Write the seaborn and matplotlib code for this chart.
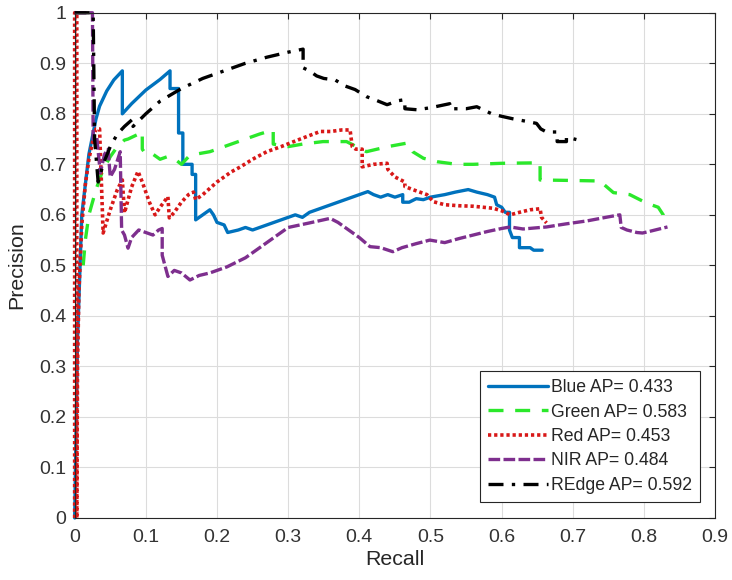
import matplotlib
matplotlib.use("Agg")
import matplotlib.pyplot as plt
import seaborn as sns
import pandas as pd

# Precision-recall curves per spectral band
blue_recall = [0, 0.004, 0.01, 0.02, 0.03, 0.035, 0.045, 0.055, 0.067, 0.067, 0.08, 0.1, 0.12, 0.134, 0.134,
               0.146, 0.146, 0.152, 0.152, 0.165, 0.165, 0.17, 0.17, 0.18, 0.19, 0.195, 0.2, 0.21, 0.215, 0.23,
               0.24, 0.25, 0.26, 0.27, 0.28, 0.29, 0.3, 0.31, 0.32, 0.33, 0.35, 0.37, 0.39, 0.412, 0.42, 0.43,
               0.44, 0.45, 0.461, 0.461, 0.47, 0.48, 0.49, 0.5, 0.52, 0.535, 0.553, 0.565, 0.58, 0.59, 0.593,
               0.6, 0.605, 0.611, 0.611, 0.615, 0.625, 0.625, 0.64, 0.645, 0.657]
blue_precision = [0, 0.35, 0.6, 0.72, 0.79, 0.815, 0.845, 0.867, 0.885, 0.80, 0.82, 0.847, 0.868, 0.885, 0.85,
                  0.85, 0.762, 0.762, 0.70, 0.70, 0.68, 0.68, 0.59, 0.60, 0.61, 0.60, 0.585, 0.58, 0.565, 0.57,
                  0.575, 0.57, 0.575, 0.58, 0.585, 0.59, 0.595, 0.60, 0.595, 0.605, 0.615, 0.625, 0.635, 0.646,
                  0.64, 0.635, 0.64, 0.635, 0.64, 0.625, 0.625, 0.632, 0.63, 0.635, 0.64, 0.645, 0.65, 0.645,
                  0.64, 0.635, 0.62, 0.615, 0.605, 0.605, 0.57, 0.555, 0.555, 0.535, 0.535, 0.53, 0.53]

green_recall = [0.012, 0.015, 0.02, 0.03, 0.04, 0.05, 0.06, 0.07, 0.075, 0.09, 0.095, 0.095, 0.1, 0.11, 0.12,
                0.13, 0.141, 0.15, 0.16, 0.17, 0.19, 0.2, 0.22, 0.24, 0.26, 0.279, 0.279, 0.3, 0.32, 0.349,
                0.382, 0.41, 0.44, 0.467, 0.475, 0.49, 0.51, 0.537, 0.56, 0.6, 0.654, 0.654, 0.7, 0.738, 0.757,
                0.78, 0.804, 0.81, 0.82, 0.827, 0.827]
green_precision = [0.50, 0.55, 0.60, 0.65, 0.69, 0.715, 0.735, 0.748, 0.75, 0.76, 0.765, 0.73, 0.72, 0.72, 0.71,
                   0.715, 0.71, 0.70, 0.715, 0.72, 0.725, 0.73, 0.74, 0.75, 0.76, 0.768, 0.74, 0.735, 0.74, 0.745,
                   0.745, 0.725, 0.735, 0.742, 0.725, 0.712, 0.705, 0.70, 0.70, 0.702, 0.703, 0.669, 0.668, 0.667,
                   0.644, 0.64, 0.623, 0.62, 0.615, 0.60, 0.59]

red_recall = [0, 0, 0.003, 0.003, 0.004, 0.006, 0.01, 0.015, 0.02, 0.026, 0.03, 0.035, 0.04, 0.05, 0.06, 0.067,
              0.07, 0.08, 0.089, 0.095, 0.1, 0.105, 0.113, 0.12, 0.131, 0.133, 0.14, 0.15, 0.16, 0.167, 0.17,
              0.18, 0.2, 0.22, 0.233, 0.25, 0.27, 0.29, 0.317, 0.33, 0.345, 0.36, 0.375, 0.387, 0.39, 0.395,
              0.404, 0.404, 0.42, 0.439, 0.44, 0.45, 0.464, 0.464, 0.475, 0.485, 0.495, 0.504, 0.52, 0.54,
              0.56, 0.588, 0.6, 0.612, 0.625, 0.64, 0.654, 0.656, 0.663]
red_precision = [0, 1, 1, 0, 0.3, 0.45, 0.58, 0.66, 0.71, 0.75, 0.77, 0.77, 0.564, 0.61, 0.65, 0.669, 0.604,
                 0.655, 0.686, 0.665, 0.645, 0.625, 0.60, 0.615, 0.636, 0.594, 0.605, 0.625, 0.64, 0.645, 0.63,
                 0.64, 0.665, 0.685, 0.695, 0.71, 0.725, 0.735, 0.75, 0.757, 0.765, 0.765, 0.768, 0.768, 0.735,
                 0.73, 0.73, 0.695, 0.70, 0.702, 0.69, 0.675, 0.665, 0.656, 0.65, 0.645, 0.64, 0.626, 0.62,
                 0.618, 0.617, 0.613, 0.608, 0.60, 0.605, 0.61, 0.612, 0.595, 0.584]

nir_recall = [0, 0.025, 0.026, 0.031, 0.036, 0.042, 0.047, 0.05, 0.056, 0.064, 0.066, 0.07, 0.075, 0.08, 0.09,
              0.1, 0.11, 0.118, 0.123, 0.123, 0.131, 0.14, 0.15, 0.162, 0.175, 0.19, 0.2, 0.214, 0.24, 0.26,
              0.28, 0.3, 0.33, 0.359, 0.37, 0.38, 0.39, 0.4, 0.415, 0.43, 0.447, 0.46, 0.48, 0.499, 0.52, 0.54,
              0.56, 0.58, 0.6, 0.612, 0.63, 0.663, 0.69, 0.72, 0.75, 0.766, 0.768, 0.776, 0.79, 0.798, 0.81,
              0.833]
nir_precision = [1, 1, 0.75, 0.755, 0.683, 0.72, 0.73, 0.675, 0.69, 0.725, 0.57, 0.56, 0.534, 0.555, 0.57,
                 0.565, 0.56, 0.57, 0.573, 0.52, 0.478, 0.49, 0.485, 0.471, 0.48, 0.485, 0.49, 0.497, 0.515,
                 0.535, 0.555, 0.575, 0.584, 0.593, 0.585, 0.575, 0.565, 0.555, 0.537, 0.535, 0.527, 0.535,
                 0.543, 0.55, 0.545, 0.553, 0.56, 0.567, 0.573, 0.576, 0.572, 0.576, 0.582, 0.588, 0.596, 0.60,
                 0.575, 0.57, 0.565, 0.564, 0.568, 0.576]

redge_recall = [0, 0.026, 0.028, 0.033, 0.04, 0.05, 0.06, 0.07, 0.082, 0.082, 0.1, 0.12, 0.15, 0.18, 0.21,
                0.24, 0.27, 0.3, 0.321, 0.321, 0.33, 0.34, 0.35, 0.366, 0.38, 0.394, 0.41, 0.425, 0.439, 0.455,
                0.464, 0.464, 0.481, 0.5, 0.527, 0.527, 0.55, 0.565, 0.586, 0.6, 0.616, 0.635, 0.649, 0.655,
                0.663, 0.678, 0.678, 0.691, 0.691, 0.705]
redge_precision = [1, 1, 0.75, 0.665, 0.70, 0.735, 0.76, 0.775, 0.79, 0.775, 0.80, 0.825, 0.85, 0.87, 0.885,
                   0.90, 0.912, 0.922, 0.928, 0.891, 0.885, 0.875, 0.87, 0.867, 0.855, 0.848, 0.834, 0.826,
                   0.818, 0.826, 0.828, 0.81, 0.808, 0.812, 0.82, 0.81, 0.81, 0.814, 0.80, 0.795, 0.79, 0.785,
                   0.781, 0.77, 0.764, 0.764, 0.745, 0.745, 0.754, 0.749]

series_labels = ["Blue AP= 0.433", "Green AP= 0.583", "Red AP= 0.453", "NIR AP= 0.484", "REdge AP= 0.592"]
x_ticks = [0, 0.1, 0.2, 0.3, 0.4, 0.5, 0.6, 0.7, 0.8, 0.9]
y_ticks = [0, 0.1, 0.2, 0.3, 0.4, 0.5, 0.6, 0.7, 0.8, 0.9, 1]

sns.set_theme(style="whitegrid")
plt.rcParams["font.family"] = ["Liberation Sans", "DejaVu Sans"]

fig = plt.figure(figsize=(7.32, 5.80), dpi=100)
ax = fig.add_axes([0.102, 0.107, 0.875, 0.871])

curves = [
    (blue_recall, blue_precision, "#0072BD", "-", 2.4),
    (green_recall, green_precision, "#2BE82B", (0, (4.5, 3.5)), 2.4),
    (red_recall, red_precision, "#D81818", (0, (0.9, 0.8)), 2.6),
    (nir_recall, nir_precision, "#7E2F8E", (0, (3.5, 1.0)), 2.4),
    (redge_recall, redge_precision, "black", (0, (4.5, 2.5, 1, 2.5)), 2.4),
]

for (rx, py, col, ls, lw), lab in zip(curves, series_labels):
    df = pd.DataFrame({"Recall": rx, "Precision": py})
    sns.lineplot(data=df, x="Recall", y="Precision", sort=False, estimator=None,
                 color=col, linestyle=ls, linewidth=lw, label=lab, ax=ax, clip_on=False)

ax.set_xlim(0, 0.9)
ax.set_ylim(0, 1)
ax.set_xticks(x_ticks)
ax.set_yticks(y_ticks)
ax.set_xticklabels([f"{v:g}" for v in x_ticks])
ax.set_yticklabels([f"{v:g}" for v in y_ticks])
ax.tick_params(axis="both", which="both", direction="in", length=4, width=0.8,
               colors="#262626", labelsize=14, top=True, right=True)
ax.tick_params(axis="x", pad=8)
ax.tick_params(axis="y", pad=6)
ax.tick_params(axis="both", labelcolor="#333333")
ax.grid(True, color="#dcdcdc", linewidth=0.8)
for sp in ax.spines.values():
    sp.set_color("#262626")
    sp.set_linewidth(0.8)
ax.set_facecolor("white")
ax.set_xlabel("Recall", fontsize=15.4, color="#262626", labelpad=3)
ax.set_ylabel("Precision", fontsize=15.4, color="#262626", labelpad=9)

leg = ax.legend(loc="lower right", bbox_to_anchor=(0.977, 0.032), fontsize=12.7,
                frameon=True, fancybox=False, framealpha=1, edgecolor="#262626",
                handlelength=3.4, handletextpad=0.2, labelspacing=0.42, borderpad=0.45,
                borderaxespad=0)
leg.get_frame().set_linewidth(0.8)
for t in leg.get_texts():
    t.set_color("#262626")

fig.savefig("out.png", dpi=100, facecolor="white")
